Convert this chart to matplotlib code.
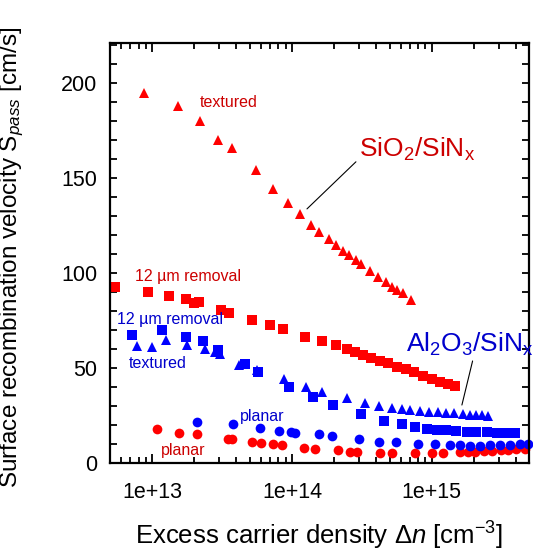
import numpy as np
import matplotlib.pyplot as plt
from matplotlib.ticker import LogLocator, MultipleLocator, NullFormatter

plt.rcParams['font.family'] = ['Liberation Sans', 'DejaVu Sans']
plt.rcParams['mathtext.fontset'] = 'custom'
plt.rcParams['mathtext.rm'] = 'Liberation Sans'
plt.rcParams['mathtext.it'] = 'Liberation Sans:italic'
plt.rcParams['mathtext.default'] = 'regular'

# SiO2/SiNx, textured (red triangles)
sio2_tex_x = [8.8e12, 1.52e13, 2.2e13, 2.94e13, 3.75e13, 5.5e13, 7.35e13, 9.4e13, 1.15e14,
              1.37e14, 1.56e14, 1.84e14, 2.08e14, 2.32e14, 2.56e14, 2.86e14, 3.1e14, 3.6e14,
              4.1e14, 4.7e14, 5.2e14, 5.65e14, 6.2e14, 7.1e14]
sio2_tex_y = [194.7, 188, 180, 170, 166, 154, 144, 137, 131,
              125.4, 121.6, 118, 114.7, 111.7, 109.5, 106.7, 104.9, 101.2,
              98, 95.3, 92.8, 91, 89.3, 85.8]

# SiO2/SiNx, 12 um removal (red squares)
sio2_rem_x = [5.4e12, 9.3e12, 1.32e13, 1.74e13, 2.0e13, 2.18e13, 3.1e13, 3.56e13, 5.15e13,
              6.97e13, 8.6e13, 1.24e14, 1.63e14, 2.05e14, 2.46e14, 2.82e14, 3.23e14, 3.7e14,
              4.25e14, 4.88e14, 5.6e14, 6.5e14, 7.4e14, 8.6e14, 9.95e14, 1.14e15, 1.31e15, 1.47e15]
sio2_rem_y = [92.5, 90.2, 87.9, 86.5, 84, 84.7, 80.4, 78.8, 75.3,
              72.6, 70.4, 66.2, 64, 62.1, 59.8, 58.3, 56.8, 55.4,
              53.8, 52.5, 50.7, 49.3, 47.7, 45.9, 44.2, 42.8, 41.6, 40.5]

# SiO2/SiNx, planar (red circles)
sio2_pla_x = [1.08e13, 1.56e13, 2.1e13, 3.5e13, 3.7e13, 5.2e13, 6.0e13, 7.3e13, 8.5e13,
              1.22e14, 1.46e14, 2.12e14, 2.6e14, 2.9e14, 4.25e14, 5.15e14, 7.6e14, 9.95e14,
              1.2e15, 1.58e15, 1.8e15, 2.05e15, 2.35e15, 2.7e15, 3.1e15, 3.5e15, 4.0e15, 4.6e15]
sio2_pla_y = [17.7, 16, 15.1, 12.5, 12.5, 10.9, 10.5, 9.8, 9.3,
              7.7, 7.2, 6.7, 5.9, 5.9, 5.3, 5.4, 5.4, 5.4,
              5.4, 5.6, 5.8, 5.9, 6.2, 6.3, 6.7, 6.8, 7.2, 7.6]

# Al2O3/SiNx, textured (blue triangles)
al_tex_x = [7.8e12, 1.0e13, 1.25e13, 1.79e13, 2.4e13, 2.82e13, 3.06e13, 4.2e13, 4.5e13,
            5.6e13, 8.7e13, 1.26e14, 1.65e14, 2.46e14, 3.3e14, 4.2e14, 5.2e14, 6.1e14,
            7.0e14, 8.2e14, 9.6e14, 1.11e15, 1.27e15, 1.44e15, 1.66e15, 1.87e15, 2.08e15,
            2.3e15, 2.52e15]
al_tex_y = [61.7, 61, 64.7, 62.3, 60, 58.6, 57.4, 51.6, 52.1,
            49, 44, 40.2, 37.5, 34, 31.4, 30.2, 28.8, 28.2,
            27.9, 27.5, 27, 26.7, 26.3, 26.1, 25.8, 25.4, 25.3,
            25.1, 24.9]

# Al2O3/SiNx, 12 um removal (blue squares)
al_rem_x = [7.2e12, 1.17e13, 1.74e13, 2.32e13, 2.98e13, 4.6e13, 5.7e13, 9.5e13, 1.42e14,
            1.95e14, 3.1e14, 4.56e14, 6.1e14, 7.6e14, 9.2e14, 1.08e15, 1.27e15, 1.5e15,
            1.77e15, 2.08e15, 2.46e15, 2.9e15, 3.42e15, 3.92e15]
al_rem_y = [67.4, 70, 66.5, 64.2, 59.5, 51.9, 48, 39.8, 34.9,
            30.5, 25.6, 22.1, 20.5, 19.1, 18.1, 17.5, 17.2, 16.8,
            16.5, 16.3, 16.2, 16.0, 16.0, 16.0]

# Al2O3/SiNx, planar (blue circles)
al_pla_x = [2.08e13, 3.8e13, 5.9e13, 8.1e13, 9.8e13, 1.05e14, 1.56e14, 1.94e14, 3.03e14,
            4.2e14, 5.5e14, 8.0e14, 1.06e15, 1.35e15, 1.58e15, 1.87e15, 2.2e15, 2.6e15,
            3.06e15, 3.6e15, 4.25e15, 4.86e15]
al_pla_y = [21.7, 20.3, 18.3, 17, 16.2, 16, 15.1, 14.4, 12.6,
            11.2, 10.9, 10, 9.8, 9.5, 9.3, 9.1, 9.1, 9.3,
            9.5, 9.6, 9.8, 10.2]

red = '#ff0000'
blue = '#0000ff'
red_txt = '#cc0000'
blue_txt = '#0000cc'

fig = plt.figure(figsize=(5.33, 5.54), dpi=100)
ax = fig.add_axes([0.2064, 0.1643, 0.7861, 0.7581])

ax.plot(sio2_tex_x, sio2_tex_y, '^', color=red, ms=7.5, mew=0, clip_on=False)
ax.plot(sio2_rem_x, sio2_rem_y, 's', color=red, ms=6.5, mew=0, clip_on=False)
ax.plot(sio2_pla_x, sio2_pla_y, 'o', color=red, ms=7, mew=0, clip_on=False)
ax.plot(al_tex_x, al_tex_y, '^', color=blue, ms=7.5, mew=0, clip_on=False)
ax.plot(al_rem_x, al_rem_y, 's', color=blue, ms=6.5, mew=0, clip_on=False)
ax.plot(al_pla_x, al_pla_y, 'o', color=blue, ms=7, mew=0, clip_on=False)

ax.set_xscale('log')
ax.set_xlim(5e12, 4.95e15)
ax.set_ylim(0, 221)

# labels next to the series
fs = 11.5
ax.text(3.5e13, 189.5, 'textured', color=red_txt, fontsize=fs, ha='center', va='center')
ax.text(1.8e13, 97.9, '12 µm removal', color=red_txt, fontsize=fs, ha='center', va='center')
ax.text(1.68e13, 6.8, 'planar', color=red_txt, fontsize=fs, ha='center', va='center')
ax.text(1.34e13, 75.3, '12 µm removal', color=blue_txt, fontsize=fs, ha='center', va='center')
ax.text(1.1e13, 52.6, 'textured', color=blue_txt, fontsize=fs, ha='center', va='center')
ax.text(6.1e13, 24.2, 'planar', color=blue_txt, fontsize=fs, ha='center', va='center')

ax.annotate('SiO$_2$/SiN$_x$', xy=(1.28e14, 133.7), xytext=(3.0e14, 161),
            color=red_txt, fontsize=19, ha='left', va='baseline',
            arrowprops=dict(arrowstyle='-', lw=0.8, color='black',
                            shrinkA=0, shrinkB=0, relpos=(0.0, 0.15)))
ax.annotate('Al$_2$O$_3$/SiN$_x$', xy=(1.64e15, 30.5), xytext=(6.5e14, 58.4),
            color=blue_txt, fontsize=19, ha='left', va='baseline',
            arrowprops=dict(arrowstyle='-', lw=0.8, color='black',
                            shrinkA=0, shrinkB=0, relpos=(0.53, 0.0)))

# axes styling
for s in ax.spines.values():
    s.set_linewidth(1.6)
ax.yaxis.set_major_locator(MultipleLocator(50))
ax.yaxis.set_minor_locator(MultipleLocator(10))
ax.xaxis.set_major_locator(LogLocator(base=10))
ax.xaxis.set_minor_locator(LogLocator(base=10, subs=np.arange(2, 10)))
ax.xaxis.set_minor_formatter(NullFormatter())
ax.set_xticks([1e13, 1e14, 1e15])
ax.set_xticklabels(['1e+13', '1e+14', '1e+15'])

ax.tick_params(which='both', direction='in', top=True, right=True, width=1.3)
ax.tick_params(axis='x', which='major', length=6.5, labelsize=15.5, pad=13.5)
ax.tick_params(axis='x', which='minor', length=4.5)
ax.tick_params(axis='y', which='both', length=5, labelsize=15.5, pad=9)

ax.set_xlabel(r'Excess carrier density $\mathit{Δn}$ [cm$^{-3}$]', fontsize=18.5)
ax.set_ylabel(r'Surface recombination velocity S$_{\mathit{pass}}$ [cm/s]', fontsize=17.5)
ax.xaxis.set_label_coords(0.5, -0.135)
ax.yaxis.set_label_coords(-0.2, 0.49)

fig.savefig('out.png', dpi=100)
